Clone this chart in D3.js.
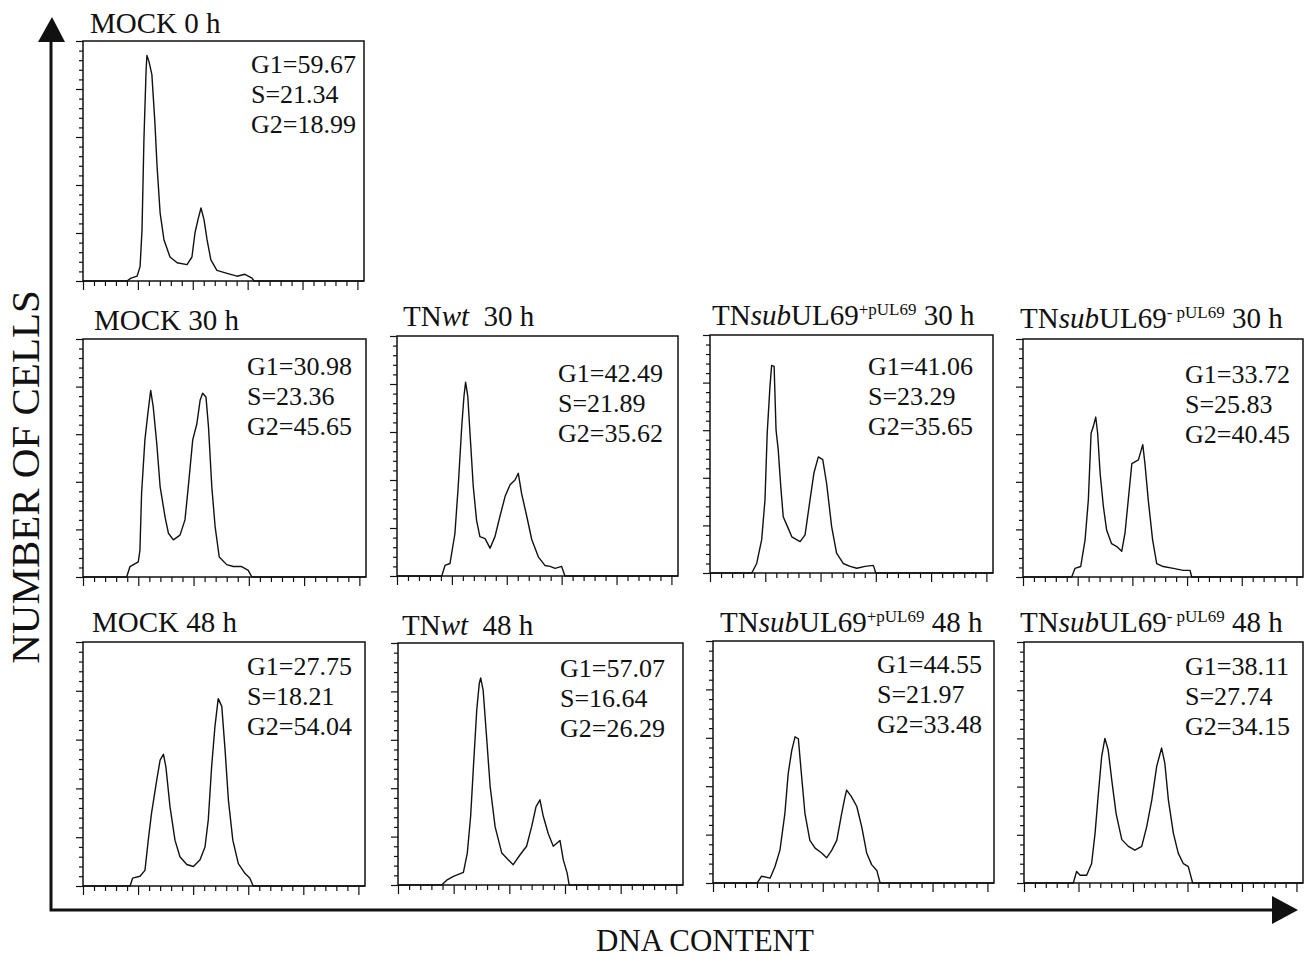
<!DOCTYPE html>
<html>
<head>
<meta charset="utf-8">
<script src="https://cdn.jsdelivr.net/npm/d3@7"></script>
<style>
  body { margin: 0; background: #fff; }
  svg { display: block; }
  text { font-family: "Liberation Serif", "Times New Roman", serif; fill: #111; }
</style>
</head>
<body>
<svg id="fig"></svg>
<script>
const width = 1316, height = 959;

// panel titles, as [text, style] pieces (i = italic, sup = superscript)
const titles = [
  [["MOCK 0 h", ""]],
  [["MOCK 30 h", ""]],
  [["TN", ""], ["wt", "i"], ["\u00a0 30 h", ""]],
  [["TN", ""], ["sub", "i"], ["UL69", ""], ["+pUL69", "sup"], [" 30 h", ""]],
  [["TN", ""], ["sub", "i"], ["UL69", ""], ["-\u00a0pUL69", "sup"], [" 30 h", ""]],
  [["MOCK 48 h", ""]],
  [["TN", ""], ["wt", "i"], ["\u00a0 48 h", ""]],
  [["TN", ""], ["sub", "i"], ["UL69", ""], ["+pUL69", "sup"], [" 48 h", ""]],
  [["TN", ""], ["sub", "i"], ["UL69", ""], ["-\u00a0pUL69", "sup"], [" 48 h", ""]]
];

// cell cycle percentages
const g1 = ["59.67", "30.98", "42.49", "41.06", "33.72", "27.75", "57.07", "44.55", "38.11"];
const sPhase = ["21.34", "23.36", "21.89", "23.29", "25.83", "18.21", "16.64", "21.97", "27.74"];
const g2 = ["18.99", "45.65", "35.62", "35.65", "40.45", "54.04", "26.29", "33.48", "34.15"];

// histograms: [channel (0-1024), count (0-250)]
const mock0 = [[0,0],[160,0],[175,3],[197,5],[208,15],[215,53],[222,147],[230,220],[233,235],[241,228],
  [251,215],[262,165],[270,119],[281,71],[295,43],[317,25],[343,19],[379,17],[397,25],[408,50],[419,64],
  [430,76],[441,64],[452,43],[466,22],[488,11],[525,8],[561,5],[590,7],[616,3],[623,0],[1024,0]];
const mock30 = [[0,0],[158,0],[170,11],[200,16],[206,28],[212,88],[224,144],[236,175],[245,196],[254,179],
  [267,140],[279,95],[297,63],[309,46],[327,39],[351,44],[369,60],[381,95],[397,144],[412,161],[424,186],
  [433,193],[445,189],[454,158],[466,95],[478,53],[493,21],[520,13],[544,11],[574,11],[598,7],[611,0],[1024,0]];
const wt30 = [[0,0],[163,0],[175,11],[193,13],[211,44],[223,93],[236,156],[244,187],[250,202],[258,187],
  [266,149],[278,93],[290,58],[302,41],[321,39],[339,29],[357,41],[375,62],[394,83],[412,95],[430,100],
  [442,107],[454,86],[473,62],[491,38],[515,20],[539,11],[558,10],[576,8],[600,10],[612,0],[1024,0]];
const plus30 = [[0,0],[151,0],[169,10],[187,35],[199,77],[207,147],[217,196],[223,218],[232,217],[239,150],
  [247,129],[256,91],[265,59],[280,49],[296,38],[326,33],[344,40],[362,77],[376,105],[392,122],[408,119],
  [422,94],[440,49],[458,21],[482,10],[507,7],[531,5],[561,7],[591,8],[600,0],[1024,0]];
const minus30 = [[0,0],[178,0],[190,9],[211,11],[227,39],[239,81],[249,151],[257,158],[266,168],[273,151],
  [282,109],[294,74],[306,49],[324,35],[343,32],[361,27],[373,46],[385,81],[398,119],[422,123],[438,139],
  [446,119],[458,81],[474,39],[489,14],[513,11],[550,9],[586,7],[611,7],[617,0],[1024,0]];
const mock48 = [[0,0],[171,0],[180,8],[207,10],[225,16],[237,47],[249,75],[268,109],[280,129],[292,135],
  [301,122],[316,81],[334,47],[352,30],[377,22],[401,20],[425,27],[443,40],[455,68],[467,122],[479,163],
  [491,192],[504,184],[516,139],[528,88],[544,47],[564,23],[588,13],[606,8],[618,0],[1024,0]];
const wt48 = [[0,0],[157,0],[175,5],[199,9],[235,13],[249,33],[261,71],[271,122],[283,181],[292,208],
  [297,214],[306,201],[319,150],[331,102],[349,60],[373,33],[396,26],[414,21],[438,31],[462,40],[480,60],
  [496,81],[510,88],[522,71],[540,53],[558,40],[582,46],[594,26],[608,12],[615,0],[1024,0]];
const plus48 = [[0,0],[161,0],[177,7],[208,5],[226,17],[244,34],[262,72],[274,113],[287,137],[299,151],
  [311,149],[323,110],[335,72],[353,44],[372,36],[396,31],[414,26],[433,34],[451,44],[469,72],[481,89],
  [487,96],[505,89],[524,79],[542,58],[560,31],[578,19],[597,13],[609,0],[1024,0]];
const minus48 = [[0,0],[181,0],[193,12],[206,8],[230,8],[248,20],[261,52],[273,93],[285,131],[297,150],
  [309,138],[322,107],[338,72],[359,45],[383,38],[407,34],[432,38],[450,58],[469,86],[487,121],[505,140],
  [517,124],[530,86],[548,52],[566,31],[585,20],[603,17],[619,0],[1024,0]];

const histograms = [mock0, mock30, wt30, plus30, minus30, mock48, wt48, plus48, minus48];

const xMajor = [0, 200, 400, 600, 800, 1000];
const yMajor = [0, 50, 100, 150, 200, 250];

// layout of each frame, title and stats block
const boxes = [
  {x0: 83, x1: 364, y0: 41, y1: 281},
  {x0: 83, x1: 366, y0: 339, y1: 577},
  {x0: 397, x1: 678, y0: 336, y1: 576},
  {x0: 710, x1: 993, y0: 335, y1: 573},
  {x0: 1023, x1: 1303, y0: 339, y1: 577},
  {x0: 83, x1: 365, y0: 642, y1: 886},
  {x0: 398, x1: 683, y0: 643, y1: 885},
  {x0: 713, x1: 994, y0: 641, y1: 883},
  {x0: 1024, x1: 1303, y0: 642, y1: 883}
];
const titlePos = [[90,33],[94,330],[403,326],[712,325],[1020,328],[92,632],[402,635],[720,632],[1020,632]];
const statPos = [[251,73],[247,375],[558,382],[868,375],[1185,383],[247,675],[560,677],[877,673],[1185,675]];

const svg = d3.select("#fig")
    .attr("width", width)
    .attr("height", height)
    .attr("viewBox", [0, 0, width, height]);

boxes.forEach((b, i) => {
  const x = d3.scaleLinear().domain([0, 1024]).range([b.x0, b.x1]);
  const y = d3.scaleLinear().domain([0, 250]).range([b.y1, b.y0]);
  const g = svg.append("g").attr("class", "panel");

  // minor + major ticks, no labels
  const xMinor = d3.range(0, 1024, 40).filter(v => v % 200 !== 0);
  const yMinor = d3.range(0, 251, 10).filter(v => v % 50 !== 0);

  g.append("g")
      .attr("transform", `translate(0,${b.y1})`)
      .call(d3.axisBottom(x).tickValues(xMinor).tickSize(5).tickFormat(""))
      .call(a => a.select(".domain").remove());
  g.append("g")
      .attr("transform", `translate(0,${b.y1})`)
      .call(d3.axisBottom(x).tickValues(xMajor).tickSize(9).tickFormat(""))
      .call(a => a.select(".domain").remove());
  g.append("g")
      .attr("transform", `translate(${b.x0},0)`)
      .call(d3.axisLeft(y).tickValues(yMinor).tickSize(4).tickFormat(""))
      .call(a => a.select(".domain").remove());
  g.append("g")
      .attr("transform", `translate(${b.x0},0)`)
      .call(d3.axisLeft(y).tickValues(yMajor).tickSize(7).tickFormat(""))
      .call(a => a.select(".domain").remove());
  g.selectAll(".tick line").attr("stroke", "#111").attr("stroke-width", 1.2);

  g.append("rect")
      .attr("x", b.x0).attr("y", b.y0)
      .attr("width", b.x1 - b.x0).attr("height", b.y1 - b.y0)
      .attr("fill", "none").attr("stroke", "#111").attr("stroke-width", 1.5);

  const line = d3.line().x(d => x(d[0])).y(d => y(d[1]));
  g.append("path")
      .datum(histograms[i])
      .attr("d", line)
      .attr("fill", "none")
      .attr("stroke", "#111")
      .attr("stroke-width", 1.4)
      .attr("stroke-linejoin", "round");

  // title
  const t = g.append("text")
      .attr("x", titlePos[i][0]).attr("y", titlePos[i][1])
      .attr("font-size", 29);
  let prevSup = false;
  titles[i].forEach(([txt, style]) => {
    const ts = t.append("tspan").text(txt);
    if (style === "i") ts.attr("font-style", "italic");
    if (style === "sup") ts.attr("font-size", 17).attr("dy", -10);
    else if (prevSup) ts.attr("dy", 10);
    prevSup = style === "sup";
  });

  // stats
  const st = g.append("text").attr("font-size", 26);
  ["G1=" + g1[i], "S=" + sPhase[i], "G2=" + g2[i]].forEach((s, k) => {
    st.append("tspan").attr("x", statPos[i][0]).attr("y", statPos[i][1] + k * 30).text(s);
  });
});

// big axis arrows
const ax = svg.append("g");
ax.append("path")
    .attr("d", `M51,36 L51,910 L1276,910`)
    .attr("fill", "none").attr("stroke", "#111").attr("stroke-width", 3);
ax.append("path")
    .attr("d", "M38,42 L52,17 L65,42 Z").attr("fill", "#111");
ax.append("path")
    .attr("d", "M1272,896 L1298,910 L1272,924 Z").attr("fill", "#111");

svg.append("text")
    .attr("transform", "translate(39,477) rotate(-90)")
    .attr("text-anchor", "middle")
    .attr("font-size", 41)
    .text("NUMBER OF CELLS");

svg.append("text")
    .attr("x", 705).attr("y", 951)
    .attr("text-anchor", "middle")
    .attr("font-size", 31)
    .text("DNA CONTENT");
</script>
</body>
</html>
